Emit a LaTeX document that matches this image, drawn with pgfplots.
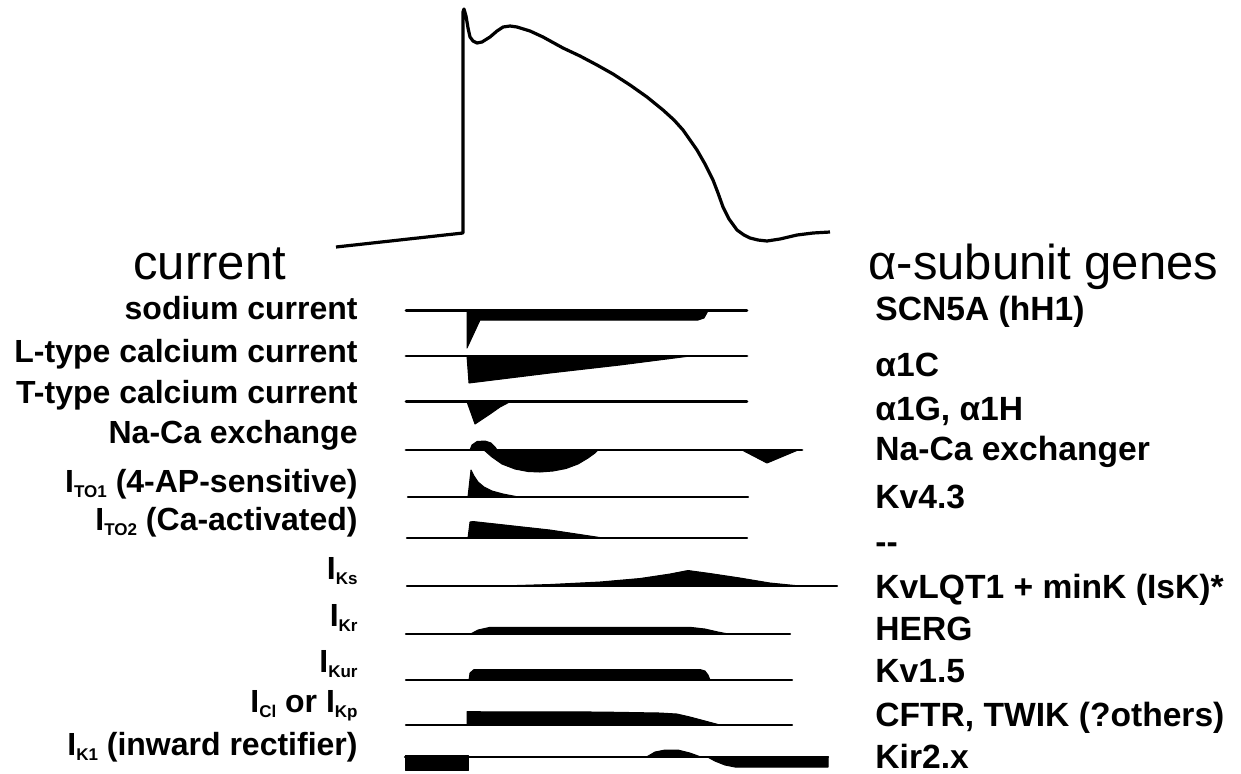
\documentclass[border=0pt]{standalone}
\usepackage{pgfplots}
\pgfplotsset{compat=1.18}
\usepackage{fontspec}
\setmainfont{Liberation Sans}

% label styles
\newcommand\lab{\fontsize{16}{19}\selectfont\bfseries}
\newcommand\gen{\fontsize{16.8}{19}\selectfont\bfseries}
\newcommand\head{\fontsize{24.5}{28}\selectfont}
\newcommand\sub[1]{\raisebox{-0.35ex}{\fontsize{8.5}{8.5}\selectfont #1}}

\begin{document}
\begin{tikzpicture}
\begin{axis}[
  name=ax,
  width=620.5pt, height=386.5pt, scale only axis,
  xmin=0, xmax=1241, ymin=0, ymax=773, y dir=reverse,
  hide axis, clip=false,
  trace/.style={black, line width=1.4pt, line cap=round},
  thin trace/.style={black, line width=1.1pt, line cap=round},
  area/.style={black, fill=black, line width=0.5pt, line join=round},
]
% ---- action potential ----
\addplot[black, line width=1.6pt, line join=round] coordinates {
 (336,247) (463,233) (463,12) (464,9) (466,16) (468,28) (470,37) (473,41)
 (477,43) (482,42) (490,37) (497,31) (503,27) (510,26) (517,27) (530,31)
 (543,37) (563,48) (580,56) (597,65) (613,74) (630,85) (647,97) (663,110)
 (674,120) (683,130) (690,140) (697,150) (705,164) (713,180) (718,193)
 (723,207) (729,219) (737,230) (744,235) (750,238) (758,240) (767,241)
 (780,239) (797,235) (813,233) (830,232)};

% ---- sodium current ----
\addplot[trace] coordinates {(406,310.7) (747,310.7)};
\addplot[area] coordinates {(467,310.7) (467,348) (480,320) (698,320) (704,318) (708,310.7)} --cycle;
% ---- L-type calcium current ----
\addplot[trace] coordinates {(406,356) (747,356)};
\addplot[area] coordinates {(467,356) (469,383) (550,373) (620,365) (690,356)} --cycle;
% ---- T-type calcium current ----
\addplot[trace] coordinates {(406,401.7) (747,401.7)};
\addplot[area] coordinates {(467,401.7) (475,424) (490,414) (500,407) (510,401.7)} --cycle;
% ---- Na-Ca exchange ----
\addplot[trace] coordinates {(406,450) (802,450)};
\addplot[area] coordinates {(470,450) (472,445) (477,441.5) (485,441) (491,443) (495,447) (497,450)} --cycle;
\addplot[area] coordinates {(484,450) (492,457) (502,464) (515,469) (528,471.5) (540,472)
 (553,471) (566,468.5) (578,464) (588,458) (595,453) (598,450)} --cycle;
\addplot[area] coordinates {(742,450) (767,463) (798,450)} --cycle;
% ---- I_TO1 ----
\addplot[thin trace] coordinates {(408,496.7) (748,496.7)};
\addplot[area] coordinates {(468,496.7) (471,470) (474,476) (478,482) (484,487) (492,491)
 (503,494) (517,496.7)} --cycle;
% ---- I_TO2 ----
\addplot[thin trace] coordinates {(407,538) (747,538)};
\addplot[area] coordinates {(468,538) (470,522) (473,521.5) (550,530) (603,538)} --cycle;
% ---- I_Ks ----
\addplot[thin trace] coordinates {(407,586) (837,586)};
\addplot[area] coordinates {(500,586) (550,584.5) (600,582) (640,578.5) (670,574)
 (688,570.5) (710,573.5) (740,578) (770,583) (800,586)} --cycle;
% ---- I_Kr ----
\addplot[thin trace] coordinates {(406,634.3) (790,634.3)};
\addplot[area] coordinates {(470,634.3) (478,630) (490,627.3) (690,627.3) (705,629)
 (718,632) (730,634.3)} --cycle;
% ---- I_Kur ----
\addplot[thin trace] coordinates {(406,680) (792,680)};
\addplot[area] coordinates {(469,680) (470,673) (474,669.5) (700,669.5) (705,671)
 (708,675) (710,680)} --cycle;
% ---- I_Cl or I_Kp ----
\addplot[thin trace] coordinates {(406,725) (792,725)};
\addplot[area] coordinates {(467,725) (467,711.7) (600,712) (660,713) (677,714)
 (690,717) (705,721) (720,725)} --cycle;
% ---- I_K1 ----
\addplot[thin trace] coordinates {(405,756.7) (828,756.7)};
\addplot[area] coordinates {(405,755.5) (468,755.5) (468,770) (405,770)} --cycle;
\addplot[area] coordinates {(647,756.7) (655,752) (665,750) (678,750) (690,753)
 (700,756.7)} --cycle;
\addplot[area] coordinates {(707,756.7) (715,761) (725,765) (735,767) (828,767)
 (828,756.7)} --cycle;

% ---- headings ----
\node[anchor=base west, inner sep=0] at (axis cs:133,279) {\head current};
\node[anchor=base west, inner sep=0] at (axis cs:868,279) {\head α-subunit genes};

% ---- current names ----
\node[anchor=base east, inner sep=0] at (axis cs:358,319) {\lab sodium current};
\node[anchor=base east, inner sep=0] at (axis cs:358,362) {\lab L-type calcium current};
\node[anchor=base east, inner sep=0] at (axis cs:358,403) {\lab T-type calcium current};
\node[anchor=base east, inner sep=0] at (axis cs:358,443) {\lab Na-Ca exchange};
\node[anchor=base east, inner sep=0] at (axis cs:358,492) {\lab I\sub{TO1} (4-AP-sensitive)};
\node[anchor=base east, inner sep=0] at (axis cs:358,530) {\lab I\sub{TO2} (Ca-activated)};
\node[anchor=base east, inner sep=0] at (axis cs:358,579) {\lab I\sub{Ks}};
\node[anchor=base east, inner sep=0] at (axis cs:358,626) {\lab I\sub{Kr}};
\node[anchor=base east, inner sep=0] at (axis cs:358,672) {\lab I\sub{Kur}};
\node[anchor=base east, inner sep=0] at (axis cs:358,712) {\lab I\sub{Cl} or I\sub{Kp}};
\node[anchor=base east, inner sep=0] at (axis cs:358,755) {\lab I\sub{K1} (inward rectifier)};

% ---- genes ----
\node[anchor=base west, inner sep=0] at (axis cs:875,320) {\gen SCN5A (hH1)};
\node[anchor=base west, inner sep=0] at (axis cs:875,376) {\gen α1C};
\node[anchor=base west, inner sep=0] at (axis cs:875,420) {\gen α1G, α1H};
\node[anchor=base west, inner sep=0] at (axis cs:875,460) {\gen Na-Ca exchanger};
\node[anchor=base west, inner sep=0] at (axis cs:875,508) {\gen Kv4.3};
\node[anchor=base west, inner sep=0] at (axis cs:875,553) {\gen -{}-};
\node[anchor=base west, inner sep=0] at (axis cs:875,598) {\gen KvLQT1 + minK (IsK)*};
\node[anchor=base west, inner sep=0] at (axis cs:875,640) {\gen HERG};
\node[anchor=base west, inner sep=0] at (axis cs:875,682) {\gen Kv1.5};
\node[anchor=base west, inner sep=0] at (axis cs:875,726) {\gen CFTR, TWIK (?others)};
\node[anchor=base west, inner sep=0] at (axis cs:875,768) {\gen Kir2.x};
\end{axis}
\pgfresetboundingbox
\path[use as bounding box] (ax.south west) rectangle (ax.north east);
\end{tikzpicture}
\end{document}
